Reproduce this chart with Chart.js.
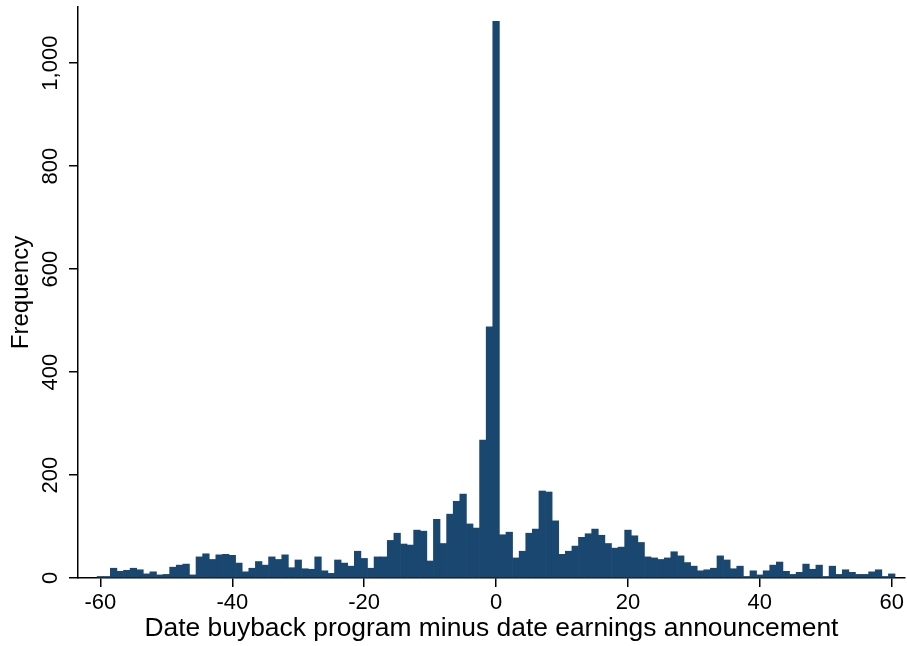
<!DOCTYPE html>
<html>
<head>
<meta charset="utf-8">
<script src="https://cdn.jsdelivr.net/npm/chart.js@4.4.1/dist/chart.umd.min.js"></script>
<style>
  body { margin: 0; background: #fff; }
</style>
</head>
<body>
<canvas id="histChart" width="907" height="646"></canvas>
<script>
// days between buyback program date and earnings announcement
const days = [
    -60, -59, -58, -57, -56, -55, -54, -53, -52, -51,
    -50, -49, -48, -47, -46, -45, -44, -43, -42, -41,
    -40, -39, -38, -37, -36, -35, -34, -33, -32, -31,
    -30, -29, -28, -27, -26, -25, -24, -23, -22, -21,
    -20, -19, -18, -17, -16, -15, -14, -13, -12, -11,
    -10, -9, -8, -7, -6, -5, -4, -3, -2, -1,
    0, 1, 2, 3, 4, 5, 6, 7, 8, 9,
    10, 11, 12, 13, 14, 15, 16, 17, 18, 19,
    20, 21, 22, 23, 24, 25, 26, 27, 28, 29,
    30, 31, 32, 33, 34, 35, 36, 37, 38, 39,
    40, 41, 42, 43, 44, 45, 46, 47, 48, 49,
    50, 51, 52, 53, 54, 55, 56, 57, 58, 59,
    60
];
const frequency = [
    3, 3, 19, 13, 15, 19, 16, 8, 12, 6,
    7, 21, 25, 27, 6, 41, 47, 36, 45, 46,
    44, 29, 12, 19, 32, 25, 41, 36, 45, 20,
    35, 18, 17, 41, 14, 9, 35, 29, 23, 52,
    38, 19, 41, 41, 73, 87, 66, 64, 93, 91,
    33, 114, 67, 124, 149, 163, 105, 97, 268, 488,
    1081, 84, 89, 39, 52, 87, 95, 169, 167, 111,
    46, 52, 62, 79, 86, 95, 83, 67, 58, 60,
    93, 82, 69, 41, 39, 36, 39, 51, 43, 30,
    23, 14, 16, 19, 43, 35, 18, 23, 3, 14,
    6, 14, 25, 31, 13, 7, 11, 27, 17, 25,
    3, 23, 7, 16, 11, 7, 7, 12, 16, 3,
    8
];
const xTicks = [-60, -40, -20, 0, 20, 40, 60];
const yTicks = [0, 200, 400, 600, 800, 1000];

const fontFamily = "'Liberation Sans', Arial, sans-serif";

const ctx = document.getElementById("histChart").getContext("2d");
new Chart(ctx, {
    type: "bar",
    data: {
        datasets: [{
            data: days.map((d, i) => ({ x: d, y: frequency[i] })),
            backgroundColor: "#1a476f",
            borderWidth: 0,
            barPercentage: 1,
            categoryPercentage: 1
        }]
    },
    options: {
        responsive: false,
        animation: false,
        layout: { padding: { top: 7, right: 2, left: 0, bottom: 0 } },
        plugins: {
            legend: { display: false },
            tooltip: { enabled: false }
        },
        scales: {
            x: {
                type: "linear",
                offset: false,
                min: -63.4,
                max: 62,
                afterBuildTicks: (scale) => { scale.ticks = xTicks.map(v => ({ value: v })); },
                afterFit: (scale) => { scale.height = 68; },
                grid: { drawOnChartArea: false, offset: false, tickLength: 9, color: "#000", lineWidth: 1.5 },
                border: { display: true, color: "#000", width: 1.5 },
                ticks: {
                    color: "#000",
                    padding: 3,
                    maxRotation: 0,
                    font: { family: fontFamily, size: 22 }
                },
                title: {
                    display: true,
                    text: "Date buyback program minus date earnings announcement",
                    color: "#000",
                    font: { family: fontFamily, size: 26.4 },
                    padding: { top: 0, bottom: 1 }
                }
            },
            y: {
                min: 0,
                max: 1109,
                afterBuildTicks: (scale) => { scale.ticks = yTicks.map(v => ({ value: v })); },
                afterFit: (scale) => { scale.width = 78; },
                grid: { drawOnChartArea: false, tickLength: 9, color: "#000", lineWidth: 1.5 },
                border: { display: true, color: "#000", width: 1.5 },
                ticks: {
                    color: "#000",
                    minRotation: 90,
                    maxRotation: 90,
                    crossAlign: "center",
                    padding: -9,
                    font: { family: fontFamily, size: 22 },
                    callback: (v) => v.toLocaleString("en-US")
                },
                title: {
                    display: true,
                    text: "Frequency",
                    color: "#000",
                    font: { family: fontFamily, size: 24 },
                    padding: { top: 7, bottom: 0 }
                }
            }
        }
    }
});
</script>
</body>
</html>
